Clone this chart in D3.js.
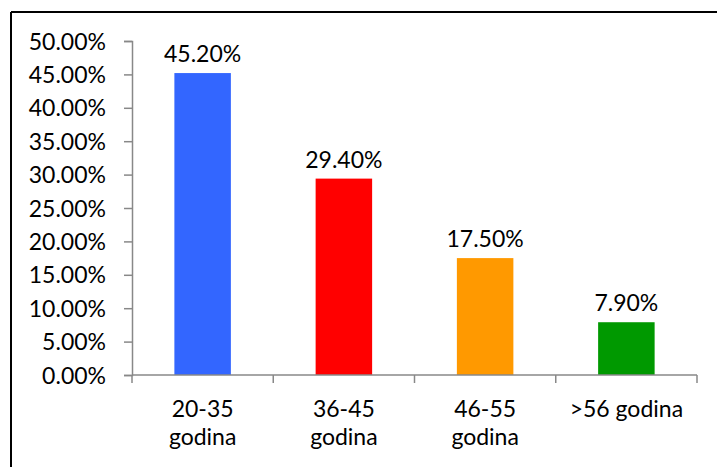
<!DOCTYPE html>
<html>
<head>
<meta charset="utf-8">
<script src="https://cdn.jsdelivr.net/npm/d3@7"></script>
<style>
  body { margin: 0; background: #fff; }
  svg text { font-family: Lato, "Open Sans", sans-serif; fill: #000; }
</style>
</head>
<body>
<svg id="chart" width="717" height="467"></svg>
<script>
/** ------------- DATA -------------- */
const categories = ["20-35 godina", "36-45 godina", "46-55 godina", ">56 godina"];
const categoryLines = [["20-35", "godina"], ["36-45", "godina"], ["46-55", "godina"], [">56 godina"]];
const values = [45.2, 29.4, 17.5, 7.9];
const colors = ["#3366ff", "#ff0000", "#ff9900", "#009900"];
const yTicks = [0, 5, 10, 15, 20, 25, 30, 35, 40, 45, 50];

const svg = d3.select("#chart");

/** outer frame: top and left edges only */
svg.append("line").attr("x1", 11).attr("x2", 717).attr("y1", 12).attr("y2", 12)
    .attr("stroke", "#000").attr("stroke-width", 2);
svg.append("line").attr("x1", 11).attr("x2", 11).attr("y1", 12).attr("y2", 467)
    .attr("stroke", "#000").attr("stroke-width", 2);

const plotLeft = 132, plotRight = 697, plotTop = 41, plotBottom = 375;
const fontSize = "23px";

const x = d3.scaleBand().domain(categories).range([plotLeft, plotRight]).paddingInner(0.6).paddingOuter(0.3);
const y = d3.scaleLinear().domain([0, 50]).range([plotBottom, plotTop]);

/** bars */
svg.append("g")
    .selectAll("rect")
    .data(values)
    .join("rect")
    .attr("x", (d, i) => x(categories[i]))
    .attr("y", d => y(d))
    .attr("width", x.bandwidth())
    .attr("height", d => plotBottom - y(d))
    .attr("fill", (d, i) => colors[i]);

/** value labels */
svg.append("g")
    .selectAll("text")
    .data(values)
    .join("text")
    .attr("x", (d, i) => x(categories[i]) + x.bandwidth() / 2)
    .attr("y", d => y(d) - 11)
    .attr("text-anchor", "middle")
    .style("font-size", fontSize)
    .text(d => d.toFixed(2) + "%");

/** y axis */
const yAxis = svg.append("g")
    .attr("transform", `translate(${plotLeft},0)`)
    .call(d3.axisLeft(y).tickValues(yTicks).tickSize(8).tickPadding(18)
        .tickFormat(d => d.toFixed(2) + "%"));
yAxis.select(".domain").attr("stroke", "#888").attr("stroke-width", 1.5);
yAxis.selectAll(".tick line").attr("stroke", "#888").attr("stroke-width", 1.5);
yAxis.selectAll(".tick text").style("font-size", fontSize).attr("dy", "0.35em");

/** x axis line and ticks at band edges */
const edges = d3.range(categories.length + 1).map(i => plotLeft + i * (plotRight - plotLeft) / categories.length);
svg.append("line").attr("x1", plotLeft).attr("x2", plotRight).attr("y1", plotBottom).attr("y2", plotBottom)
    .attr("stroke", "#888").attr("stroke-width", 1.5);
svg.append("g")
    .selectAll("line")
    .data(edges)
    .join("line")
    .attr("x1", d => d).attr("x2", d => d)
    .attr("y1", plotBottom).attr("y2", plotBottom + 8)
    .attr("stroke", "#888").attr("stroke-width", 1.5);

/** category labels */
svg.append("g")
    .selectAll("text")
    .data(categoryLines)
    .join("text")
    .attr("x", (d, i) => x(categories[i]) + x.bandwidth() / 2)
    .attr("y", 417)
    .attr("text-anchor", "middle")
    .style("font-size", fontSize)
    .each(function (d) {
        const cx = d3.select(this).attr("x");
        d3.select(this).selectAll("tspan")
            .data(d)
            .join("tspan")
            .attr("x", cx)
            .attr("dy", (t, j) => j === 0 ? 0 : 28)
            .text(t => t);
    });
</script>
</body>
</html>
